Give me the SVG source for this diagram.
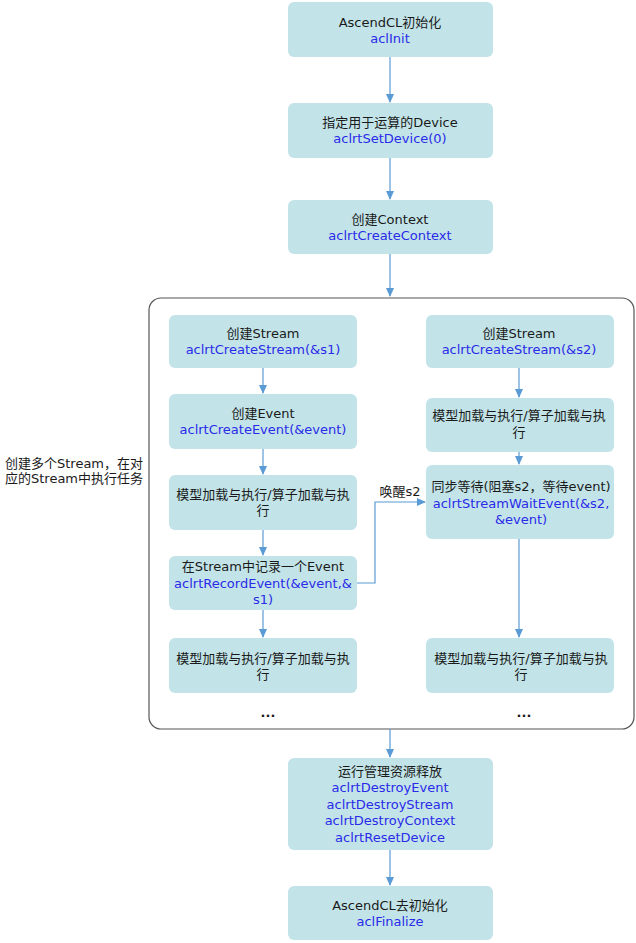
<svg xmlns="http://www.w3.org/2000/svg" width="636" height="943" viewBox="0 0 636 943">
<style>
.box{fill:#c2e4e8;}
text{font-family:"DejaVu Sans","Noto Sans CJK SC",sans-serif;font-size:13px;text-anchor:middle;fill:#1a1a1a;}
.b{fill:#2a2ae8;}
.l{text-anchor:start;}
.c{stroke:#5b9bd5;stroke-width:1.2;fill:none;}
</style>
<defs>
<marker id="ah" markerWidth="10" markerHeight="10" refX="8" refY="4" orient="auto" markerUnits="userSpaceOnUse">
<path d="M0,0 L9,4 L0,8 Z" fill="#5b9bd5"/>
</marker>
</defs>
<rect width="636" height="943" fill="#ffffff"/>
<g id="container">
<rect x="149" y="298" width="485" height="431" rx="12" fill="#ffffff" stroke="#555555" stroke-width="1.2"/>
</g>
<g id="connectors">
<line class="c" x1="390" y1="57" x2="390" y2="102" marker-end="url(#ah)"/>
<line class="c" x1="390" y1="158" x2="390" y2="199" marker-end="url(#ah)"/>
<line class="c" x1="390" y1="254" x2="390" y2="296" marker-end="url(#ah)"/>
<line class="c" x1="263" y1="368" x2="263" y2="393" marker-end="url(#ah)"/>
<line class="c" x1="263" y1="449" x2="263" y2="474" marker-end="url(#ah)"/>
<line class="c" x1="263" y1="530" x2="263" y2="555" marker-end="url(#ah)"/>
<line class="c" x1="263" y1="610" x2="263" y2="637" marker-end="url(#ah)"/>
<line class="c" x1="519" y1="368" x2="519" y2="397" marker-end="url(#ah)"/>
<line class="c" x1="519" y1="452" x2="519" y2="464" marker-end="url(#ah)"/>
<line class="c" x1="519" y1="539" x2="519" y2="637" marker-end="url(#ah)"/>
<polyline class="c" points="357,583 375,583 375,502 425,502" marker-end="url(#ah)"/>
<line class="c" x1="390" y1="729" x2="390" y2="757" marker-end="url(#ah)"/>
<line class="c" x1="390" y1="850" x2="390" y2="885" marker-end="url(#ah)"/>
<text x="400" y="496">唤醒s2</text>
</g>
<g id="n1"><rect class="box" x="288" y="2" width="205" height="55" rx="6"/>
<text x="390" y="27">AscendCL初始化</text><text class="b" x="390" y="43">aclInit</text></g>
<g id="n2"><rect class="box" x="288" y="103" width="205" height="55" rx="6"/>
<text x="390" y="127">指定用于运算的Device</text><text class="b" x="390" y="143">aclrtSetDevice(0)</text></g>
<g id="n3"><rect class="box" x="288" y="200" width="205" height="54" rx="6"/>
<text x="390" y="224">创建Context</text><text class="b" x="390" y="240">aclrtCreateContext</text></g>
<g id="label"><text class="l" x="5" y="468">创建多个Stream，在对</text><text class="l" x="5" y="483">应的Stream中执行任务</text></g>
<g id="l1"><rect class="box" x="169" y="315" width="188" height="53" rx="6"/>
<text x="263" y="338">创建Stream</text><text class="b" x="263" y="354">aclrtCreateStream(&amp;s1)</text></g>
<g id="l2"><rect class="box" x="169" y="394" width="188" height="55" rx="6"/>
<text x="263" y="418">创建Event</text><text class="b" x="263" y="434">aclrtCreateEvent(&amp;event)</text></g>
<g id="l3"><rect class="box" x="169" y="475" width="188" height="55" rx="6"/>
<text x="263" y="499">模型加载与执行/算子加载与执</text><text x="263" y="515">行</text></g>
<g id="l4"><rect class="box" x="169" y="556" width="188" height="54" rx="6"/>
<text x="263" y="571">在Stream中记录一个Event</text><text class="b" x="263" y="588">aclrtRecordEvent(&amp;event,&amp;</text><text class="b" x="263" y="604">s1)</text></g>
<g id="l5"><rect class="box" x="169" y="638" width="188" height="55" rx="6"/>
<text x="263" y="663">模型加载与执行/算子加载与执</text><text x="263" y="679">行</text></g>
<text x="268" y="717" style="font-weight:bold">...</text>
<g id="r1"><rect class="box" x="426" y="315" width="188" height="53" rx="6"/>
<text x="519" y="338">创建Stream</text><text class="b" x="519" y="354">aclrtCreateStream(&amp;s2)</text></g>
<g id="r2"><rect class="box" x="426" y="398" width="188" height="54" rx="6"/>
<text x="519" y="420">模型加载与执行/算子加载与执</text><text x="519" y="437">行</text></g>
<g id="r3"><rect class="box" x="426" y="465" width="188" height="74" rx="6"/>
<text x="521" y="491">同步等待(阻塞s2，等待event)</text><text class="b" x="521" y="508">aclrtStreamWaitEvent(&amp;s2,</text><text class="b" x="521" y="524">&amp;event)</text></g>
<g id="r4"><rect class="box" x="426" y="638" width="188" height="55" rx="6"/>
<text x="521" y="663">模型加载与执行/算子加载与执</text><text x="521" y="679">行</text></g>
<text x="524" y="717" style="font-weight:bold">...</text>
<g id="b1"><rect class="box" x="288" y="758" width="205" height="92" rx="6"/>
<text x="390" y="776">运行管理资源释放</text><text class="b" x="390" y="792">aclrtDestroyEvent</text><text class="b" x="390" y="809">aclrtDestroyStream</text><text class="b" x="390" y="825">aclrtDestroyContext</text><text class="b" x="390" y="842">aclrtResetDevice</text></g>
<g id="b2"><rect class="box" x="288" y="886" width="205" height="54" rx="6"/>
<text x="390" y="910">AscendCL去初始化</text><text class="b" x="390" y="926">aclFinalize</text></g>
</svg>
